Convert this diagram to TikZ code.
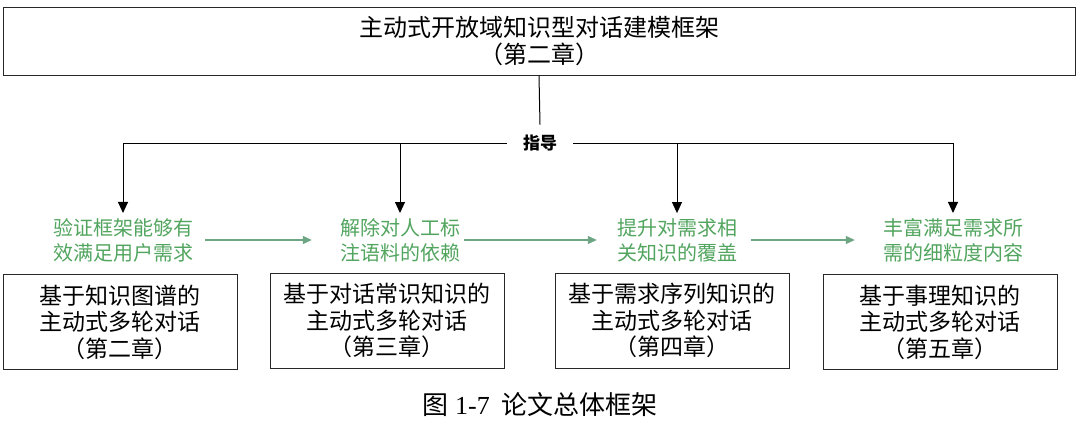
\documentclass[tikz,border=0pt]{standalone}
\usepackage{fontspec}
\setmainfont{Liberation Serif}
\newfontfamily\cjk{Noto Sans CJK SC}
\usetikzlibrary{arrows.meta}
\definecolor{boxline}{RGB}{40,40,40}
\definecolor{goaltext}{RGB}{82,165,95}
\definecolor{goalarrow}{RGB}{110,165,130}
\tikzset{
  chapbox/.style={draw=boxline, line width=1pt, minimum width=234pt, minimum height=95pt, align=center, font=\cjk\fontsize{23}{26.5}\selectfont, inner sep=0pt},
  goal/.style={text=goaltext, align=center, font=\cjk\fontsize{20}{25}\selectfont, inner sep=0pt},
  guide/.style={-{Triangle[width=10pt,length=11pt]}, line width=1pt, draw=black},
  flow/.style={-{Triangle[width=8pt,length=9pt]}, line width=1.2pt, draw=goalarrow},
}
\begin{document}
\begin{tikzpicture}[x=1pt,y=-1pt]
\useasboundingbox[fill=white] (0,0) rectangle (1080,423);
\node[draw=boxline, line width=1pt, minimum width=1072pt, minimum height=68pt, align=center, inner sep=0pt,
  font=\cjk\fontsize{24}{27}\selectfont] (top) at (539,41) {主动式开放域知识型对话建模框架\\（第二章）};
\node[font=\cjk\bfseries\fontsize{17}{20}\selectfont, inner xsep=16pt, inner ysep=10pt] (zd) at (540,143) {指导};
\node[goal] (g1) at (123,240) {验证框架能够有\\效满足用户需求};
\node[goal] (g2) at (400,240) {解除对人工标\\注语料的依赖};
\node[goal] (g3) at (677,240) {提升对需求相\\关知识的覆盖};
\node[goal] (g4) at (953,240) {丰富满足需求所\\需的细粒度内容};
\node[chapbox] (c1) at (120,322) {基于知识图谱的\\主动式多轮对话\\（第二章）};
\node[chapbox] (c2) at (387,320.5) {基于对话常识知识的\\主动式多轮对话\\（第三章）};
\node[chapbox] (c3) at (672,320.5) {基于需求序列知识的\\主动式多轮对话\\（第四章）};
\node[chapbox] (c4) at (940,322) {基于事理知识的\\主动式多轮对话\\（第五章）};
\node[font=\fontsize{26}{28}\selectfont] (cap) at (540,405) {{\cjk 图}\hspace{7pt}1-7\hspace{12pt}{\cjk 论文总体框架}};
\coordinate (b2) at (400,143);
\coordinate (b3) at (677,143);
\draw[line width=1pt] (top.south) -- (zd.north);
\draw[guide] (zd.west) -| ([yshift=5pt]g1.north);
\draw[guide] (zd.east) -| ([yshift=5pt]g4.north);
\draw[guide] (b2) -- ([yshift=5pt]g2.north);
\draw[guide] (b3) -- ([yshift=5pt]g3.north);
\draw[flow] ([xshift=12pt]g1.east) -- ([xshift=-28pt]g2.west);
\draw[flow] ([xshift=4pt]g2.east) -- ([xshift=-20pt]g3.west);
\draw[flow] ([xshift=14pt]g3.east) -- ([xshift=-28pt]g4.west);
\end{tikzpicture}
\end{document}
